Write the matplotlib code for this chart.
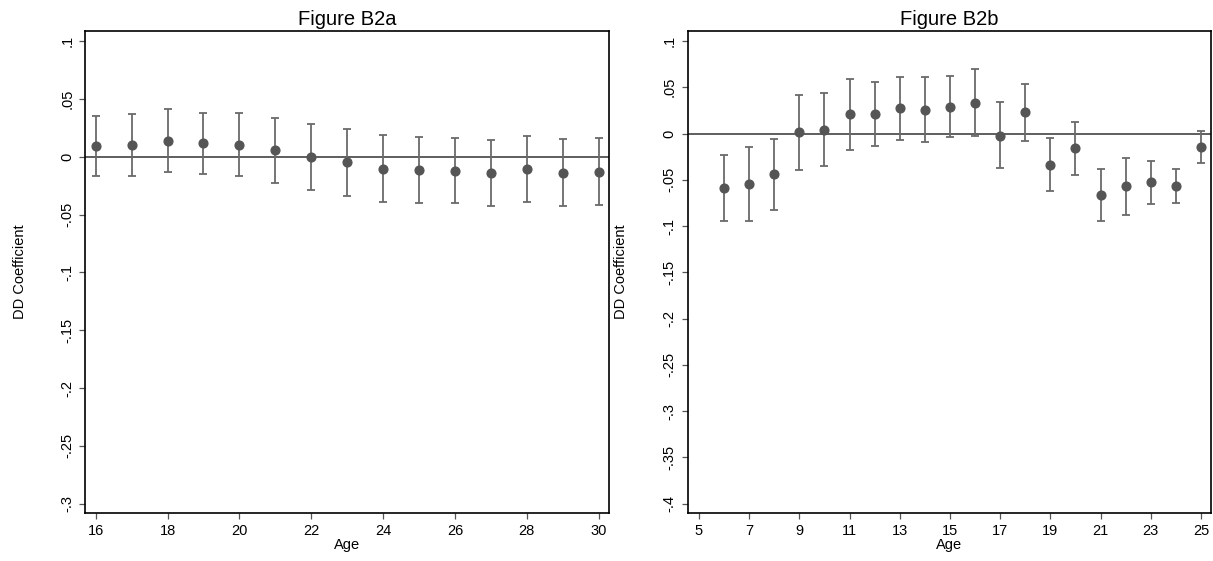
import matplotlib
matplotlib.use("Agg")
import matplotlib.pyplot as plt
import numpy as np

plt.rcParams['font.family'] = ['Liberation Sans', 'DejaVu Sans']

# ---- Data: Figure B2a ----
ages_a = [16, 17, 18, 19, 20, 21, 22, 23, 24, 25, 26, 27, 28, 29, 30]
coef_a = [0.0092, 0.0098, 0.0138, 0.0115, 0.0104, 0.0055, 0.0000, -0.0049,
          -0.0104, -0.0115, -0.0121, -0.0144, -0.0104, -0.0138, -0.0130]
hi_a = [0.0350, 0.0366, 0.0410, 0.0378, 0.0378, 0.0330, 0.0280, 0.0240,
        0.0184, 0.0173, 0.0164, 0.0144, 0.0179, 0.0150, 0.0159]
lo_a = [-0.0170, -0.0170, -0.0130, -0.0147, -0.0170, -0.0225, -0.0288, -0.0337,
        -0.0390, -0.0400, -0.0403, -0.0427, -0.0390, -0.0427, -0.0418]

# ---- Data: Figure B2b ----
ages_b = [6, 7, 8, 9, 10, 11, 12, 13, 14, 15, 16, 17, 18, 19, 20, 21, 22, 23, 24, 25]
coef_b = [-0.0586, -0.0547, -0.0442, 0.0014, 0.0043, 0.0212, 0.0212, 0.0273, 0.0259,
          0.0291, 0.0331, -0.0025, 0.0230, -0.0338, -0.0158, -0.0662, -0.0572,
          -0.0529, -0.0572, -0.0144]
hi_b = [-0.0227, -0.0144, -0.0061, 0.0417, 0.0442, 0.0590, 0.0558, 0.0608, 0.0608,
        0.0622, 0.0701, 0.0342, 0.0540, -0.0050, 0.0129, -0.0385, -0.0270,
        -0.0295, -0.0385, 0.0025]
lo_b = [-0.0946, -0.0946, -0.0824, -0.0392, -0.0356, -0.0173, -0.0130, -0.0068, -0.0094,
        -0.0043, -0.0032, -0.0374, -0.0079, -0.0626, -0.0450, -0.0946, -0.0878,
        -0.0763, -0.0752, -0.0320]

xticks_a = [16, 18, 20, 22, 24, 26, 28, 30]
yticks_a = [0.1, 0.05, 0, -0.05, -0.1, -0.15, -0.2, -0.25, -0.3]
yticklabels_a = ['.1', '.05', '0', '-.05', '-.1', '-.15', '-.2', '-.25', '-.3']

xticks_b = [5, 7, 9, 11, 13, 15, 17, 19, 21, 23, 25]
yticks_b = [0.1, 0.05, 0, -0.05, -0.1, -0.15, -0.2, -0.25, -0.3, -0.35, -0.4]
yticklabels_b = ['.1', '.05', '0', '-.05', '-.1', '-.15', '-.2', '-.25', '-.3', '-.35', '-.4']

W, H = 1213, 561
fig = plt.figure(figsize=(W / 100, H / 100), dpi=100)

def px_axes(x0, x1, y0, y1):
    return fig.add_axes([x0 / W, (H - y1) / H, (x1 - x0) / W, (y1 - y0) / H])

ax_a = px_axes(85.3, 609.0, 30.7, 513.3)
ax_b = px_axes(687.7, 1210.7, 30.7, 513.3)

def draw(ax, ages, coef, lo, hi, xticks, yticks, ylabels, xlim, ylim, title, ylabel_x):
    coef = np.array(coef)
    yerr = [coef - np.array(lo), np.array(hi) - coef]
    ax.axhline(0, color='#333333', lw=1.1, zorder=1)
    ax.errorbar(ages, coef, yerr=yerr, fmt='none', ecolor='#6a6a6a',
                elinewidth=1.3, capsize=2.7, capthick=1.3, zorder=2)
    ax.plot(ages, coef, 'o', color='#555555', markersize=6.3, zorder=3)
    ax.set_xlim(*xlim)
    ax.set_ylim(*ylim)
    ax.set_xticks(xticks)
    ax.set_xticklabels([str(t) for t in xticks], fontsize=10.5)
    ax.set_yticks(yticks)
    ax.set_yticklabels(ylabels, fontsize=10.5, rotation=90, va='center')
    ax.tick_params(axis='both', length=4.3, width=0.9, color='#555555', pad=3.5)
    for s in ax.spines.values():
        s.set_linewidth(1.2)
        s.set_color('black')
    ax.set_title(title, fontsize=14.5, pad=4)
    ax.set_xlabel('Age', fontsize=10.5, labelpad=0)
    ax.set_ylabel('DD Coefficient', fontsize=10.5)
    ax.yaxis.set_label_coords(ylabel_x, 0.5)

draw(ax_a, ages_a, coef_a, lo_a, hi_a, xticks_a, yticks_a, yticklabels_a,
     (15.71, 30.29), (-0.3083, 0.1089), 'Figure B2a', -0.112)
draw(ax_b, ages_b, coef_b, lo_b, hi_b, xticks_b, yticks_b, yticklabels_b,
     (4.55, 25.39), (-0.4104, 0.1111), 'Figure B2b', -0.115)

fig.savefig('out.png', dpi=100)
